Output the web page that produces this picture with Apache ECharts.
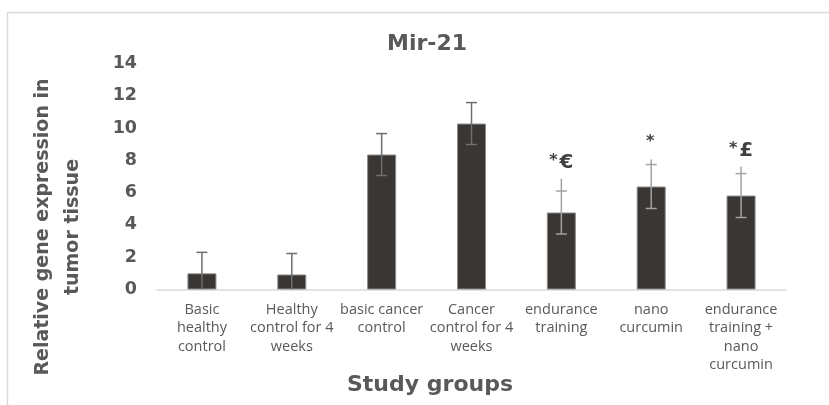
<!DOCTYPE html>
<html>
<head>
<meta charset="utf-8">
<script src="https://cdn.jsdelivr.net/npm/echarts@6/dist/echarts.min.js"></script>
<style>
  html, body { margin: 0; padding: 0; background: #ffffff; }
  #chart { width: 829px; height: 405px; }
</style>
</head>
<body>
<div id="chart"></div>
<script>
// Study groups (x-axis categories, with their printed line breaks)
const groups = [
  'Basic\nhealthy\ncontrol',
  'Healthy\ncontrol for 4\nweeks',
  'basic cancer\ncontrol',
  'Cancer\ncontrol for 4\nweeks',
  'endurance\ntraining',
  'nano\ncurcumin',
  'endurance\ntraining +\nnano\ncurcumin'
];

// Mean relative Mir-21 expression per group
const expression = [1.0, 0.93, 8.36, 10.28, 4.77, 6.38, 5.82];

// Standard deviation per group (error bar half-length)
const deviation = [1.3, 1.3, 1.3, 1.3, 1.33, 1.36, 1.36];

// Upper end of the whisker line where it runs past the cap
const whiskerReach = [null, null, null, null, 6.87, 8.05, 7.62];

// Significance marks printed above the bars
const marks = ['', '', '', '', '*€', '*', '*£'];

// Y axis range and step
const yMin = 0, yMax = 14, yStep = 2;

const GREY_TEXT = '#595959';
const BOLD_FONT = '"DejaVu Sans", "Liberation Sans", Arial, sans-serif';
const LABEL_FONT = '"Open Sans", "Liberation Sans", Arial, sans-serif';

const chart = echarts.init(document.getElementById('chart'), null, { renderer: 'canvas' });

const errorData = expression.map((v, i) => [i, v, deviation[i], whiskerReach[i]]);
const markData = expression.map((v, i) => [i, whiskerReach[i] != null ? whiskerReach[i] : v + deviation[i], marks[i]]);

// Error bar: whisker from mean - sd (clipped at the axis floor) to mean + sd,
// capped at both ends unless the lower end is clipped.
function renderError(params, api) {
  const i = api.value(0);
  const mean = api.value(1);
  const sd = api.value(2);
  const reach = api.value(3);
  const hasReach = !(reach == null || isNaN(reach));
  const lowVal = mean - sd;
  const clipped = lowVal < yMin;
  const hi = api.coord([i, mean + sd]);
  const lo = api.coord([i, clipped ? yMin : lowVal]);
  const top = hasReach ? api.coord([i, reach]) : hi;
  const x = hi[0];
  const half = 5.5;
  const stroke = hasReach ? '#a3a3a3' : '#6e6e6e';
  const style = { stroke: stroke, lineWidth: 1.5 };
  const children = [
    { type: 'line', shape: { x1: x, y1: top[1], x2: x, y2: lo[1] }, style: style },
    { type: 'line', shape: { x1: x - half, y1: hi[1], x2: x + half, y2: hi[1] }, style: style }
  ];
  if (!clipped) {
    children.push({ type: 'line', shape: { x1: x - half, y1: lo[1], x2: x + half, y2: lo[1] }, style: style });
  }
  return { type: 'group', children: children };
}

function renderMark(params, api) {
  const i = api.value(0);
  const text = marks[i];
  if (!text) return null;
  const p = api.coord([i, api.value(1)]);
  const star = text.charAt(0);
  const rest = text.slice(1);
  return {
    type: 'text',
    x: p[0],
    y: p[1] - 6,
    style: {
      text: '{s|' + star + '}' + (rest ? '{c|' + rest + '}' : ''),
      align: 'center',
      verticalAlign: 'bottom',
      rich: {
        s: { fontFamily: BOLD_FONT, fontWeight: 'bold', fontSize: 16, fill: '#404040', padding: [0, 2, 4, 0] },
        c: { fontFamily: BOLD_FONT, fontWeight: 'bold', fontSize: 20, fill: '#404040' }
      }
    }
  };
}

chart.setOption({
  animation: false,
  backgroundColor: '#ffffff',
  grid: { left: 157, right: 43, top: 63.5, bottom: 115.5, containLabel: false },
  xAxis: {
    type: 'category',
    data: groups,
    axisLine: { show: true, lineStyle: { color: '#d9d9d9', width: 1.5 } },
    axisTick: { show: false },
    axisLabel: {
      interval: 0,
      margin: 11,
      color: GREY_TEXT,
      fontFamily: LABEL_FONT,
      fontSize: 14.5,
      lineHeight: 18.5,
      align: 'center'
    },
    splitLine: { show: false }
  },
  yAxis: {
    type: 'value',
    min: yMin,
    max: yMax,
    interval: yStep,
    axisLine: { show: false },
    axisTick: { show: false },
    splitLine: { show: false },
    axisLabel: {
      margin: 20,
      color: GREY_TEXT,
      fontFamily: BOLD_FONT,
      fontWeight: 'bold',
      fontSize: 17.5
    }
  },
  graphic: [
    {
      type: 'rect',
      silent: true,
      shape: { x: 7.5, y: 12.5, width: 900, height: 500 },
      style: { fill: 'none', stroke: '#d9d9d9', lineWidth: 1.5 },
      z: -10
    },
    {
      type: 'text',
      x: 427, y: 44,
      style: {
        text: 'Mir-21',
        align: 'center', verticalAlign: 'middle',
        fontFamily: BOLD_FONT, fontWeight: 'bold', fontSize: 22,
        fill: GREY_TEXT
      }
    },
    {
      type: 'text',
      x: 58, y: 227,
      rotation: Math.PI / 2,
      style: {
        text: 'Relative gene expression in\ntumor tissue',
        align: 'center', verticalAlign: 'middle',
        fontFamily: BOLD_FONT, fontWeight: 'bold', fontSize: 19, lineHeight: 30,
        fill: GREY_TEXT
      }
    },
    {
      type: 'text',
      x: 430, y: 385,
      style: {
        text: 'Study groups',
        align: 'center', verticalAlign: 'middle',
        fontFamily: BOLD_FONT, fontWeight: 'bold', fontSize: 22,
        fill: GREY_TEXT
      }
    }
  ],
  series: [
    {
      name: 'Mir-21',
      type: 'bar',
      data: expression,
      barWidth: 29,
      itemStyle: { color: '#393634', borderColor: '#8a8a8a', borderWidth: 1 }
    },
    {
      name: 'SD',
      type: 'custom',
      renderItem: renderError,
      data: errorData,
      encode: { x: 0, y: 1 },
      z: 5
    },
    {
      name: 'marks',
      type: 'custom',
      renderItem: renderMark,
      data: markData,
      encode: { x: 0, y: 1 },
      z: 6
    }
  ]
});
</script>
</body>
</html>
